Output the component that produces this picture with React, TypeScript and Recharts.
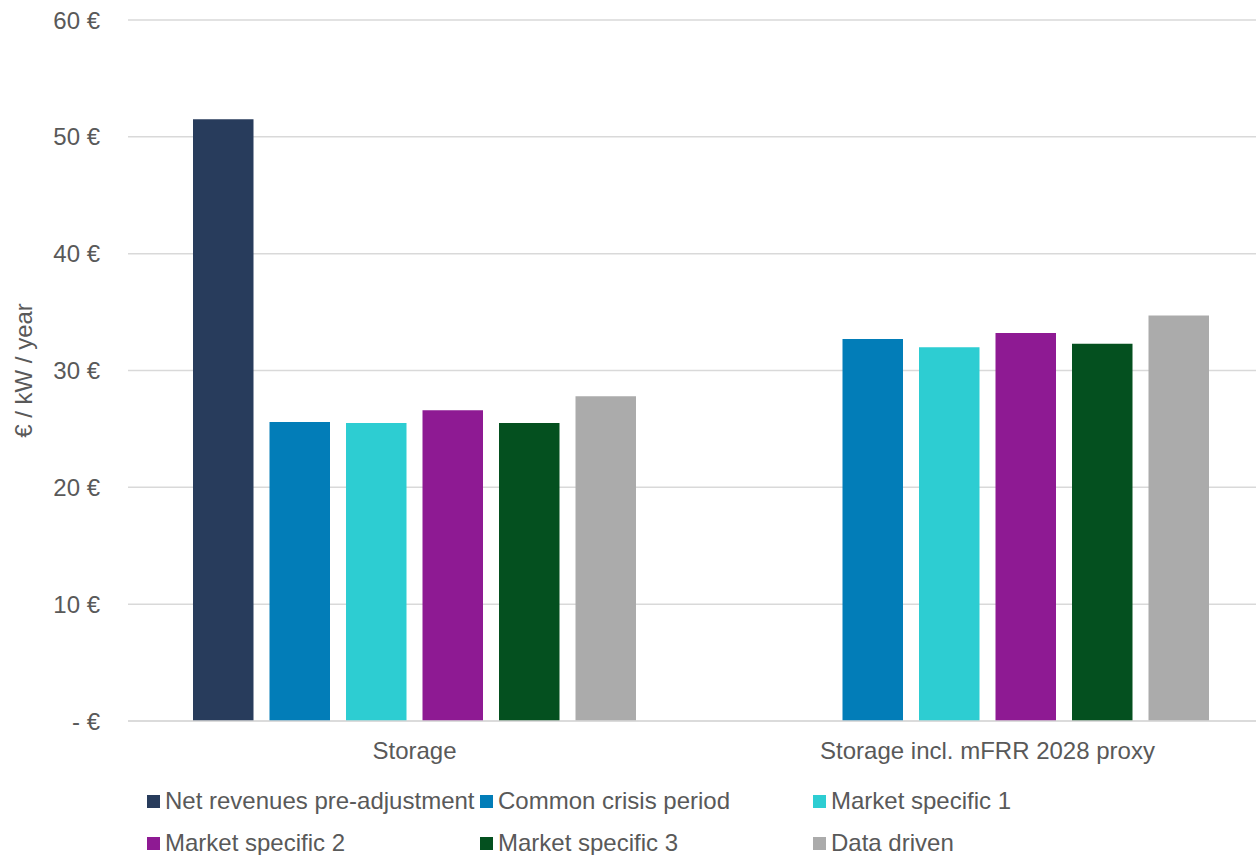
import { BarChart, Bar, XAxis, YAxis, CartesianGrid, Legend, Label } from "recharts";

const categories = ["Storage", "Storage incl. mFRR 2028 proxy"];
const netRevenues = [51.5, null];
const commonCrisis = [25.6, 32.7];
const marketSpecific1 = [25.5, 32.0];
const marketSpecific2 = [26.6, 33.2];
const marketSpecific3 = [25.5, 32.3];
const dataDriven = [27.8, 34.7];
const yTicks = [0, 10, 20, 30, 40, 50, 60];

const series = [
  { key: "net", name: "Net revenues pre-adjustment", color: "#283C5C", values: netRevenues },
  { key: "crisis", name: "Common crisis period", color: "#027DB8", values: commonCrisis },
  { key: "ms1", name: "Market specific 1", color: "#2DCDD2", values: marketSpecific1 },
  { key: "ms2", name: "Market specific 2", color: "#8E1A93", values: marketSpecific2 },
  { key: "ms3", name: "Market specific 3", color: "#04501F", values: marketSpecific3 },
  { key: "dd", name: "Data driven", color: "#ABABAB", values: dataDriven },
];

const data = categories.map((name, i) => {
  const row: Record<string, string | number | null> = { name };
  series.forEach((s) => {
    row[s.key] = s.values[i];
  });
  return row;
});

const textColor = "#595959";
const font = "'Liberation Sans', Arial, sans-serif";

function ChartLegend() {
  return (
    <div
      style={{
        display: "grid",
        gridTemplateColumns: "333px 333px 333px",
        paddingLeft: 147,
        height: 84,
        fontFamily: font,
        fontSize: 24,
        lineHeight: "42px",
        color: textColor,
      }}
    >
      {series.map((s) => (
        <div key={s.key} style={{ display: "flex", alignItems: "center", whiteSpace: "nowrap" }}>
          <span style={{ width: 13, height: 13, background: s.color, marginRight: 5, display: "inline-block" }} />
          <span>{s.name}</span>
        </div>
      ))}
    </div>
  );
}

export default function App() {
  return (
    <div style={{ position: "absolute", left: 0, top: 0, width: 1256, height: 855, overflow: "hidden", background: "#fff" }}>
      <BarChart
        width={1274}
        height={855}
        data={data}
        margin={{ top: 20, right: 0, bottom: 0, left: 0 }}
        barSize={60.5}
        barGap={16}
      >
        <CartesianGrid vertical={false} stroke="#D9D9D9" strokeWidth={1.5} />
        <XAxis
          dataKey="name"
          height={50}
          axisLine={{ stroke: "#D9D9D9", strokeWidth: 1.5 }}
          tickLine={false}
          tickSize={0}
          tickMargin={21}
          tick={{ fill: textColor, fontSize: 24, fontFamily: font }}
        />
        <YAxis
          width={128}
          domain={[0, 60]}
          ticks={yTicks}
          axisLine={false}
          tickLine={false}
          tickSize={0}
          tickMargin={28}
          tick={{ fill: textColor, fontSize: 24, fontFamily: font }}
          tickFormatter={(v: number) => (v === 0 ? "- €" : `${v} €`)}
        >
          <Label
            value="€ / kW / year"
            angle={-90}
            position="center"
            dx={-41}
            style={{ fill: textColor, fontSize: 24, fontFamily: font }}
          />
        </YAxis>
        <Legend
          verticalAlign="bottom"
          content={() => <ChartLegend />}
          wrapperStyle={{ top: 780, left: 0 }}
        />
        {series.map((s) => (
          <Bar key={s.key} dataKey={s.key} name={s.name} fill={s.color} isAnimationActive={false} />
        ))}
      </BarChart>
    </div>
  );
}
